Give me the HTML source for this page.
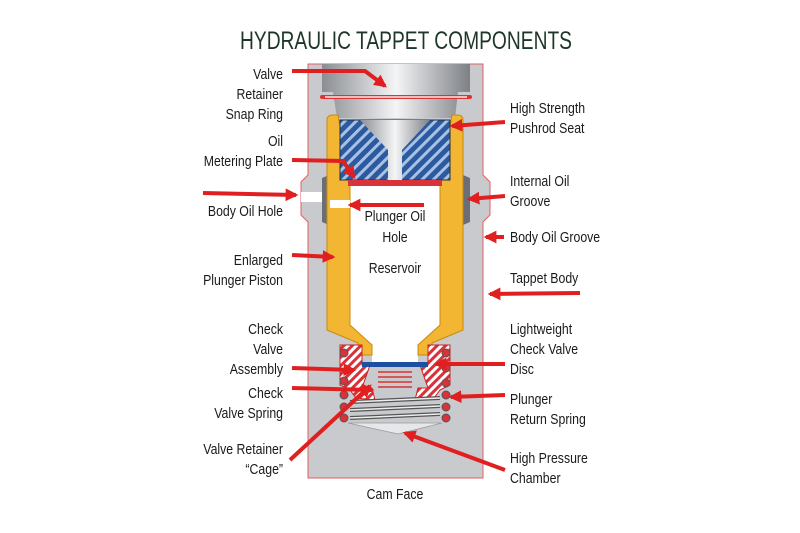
<!DOCTYPE html>
<html><head><meta charset="utf-8"><style>
html,body{margin:0;padding:0;background:#fff;width:800px;height:533px;overflow:hidden}
svg text{font-family:"Liberation Sans",sans-serif;font-size:15px;fill:#1a1a1a}
</style></head><body>
<svg width="800" height="533" viewBox="0 0 800 533" xmlns="http://www.w3.org/2000/svg">
<defs>
<marker id="ah" markerWidth="3.2" markerHeight="3.2" refX="2.6" refY="1.6" orient="auto" markerUnits="strokeWidth"><path d="M0,0 L3.2,1.6 L0,3.2 Z" fill="#e02020"/></marker>
<linearGradient id="cup" x1="0" x2="1"><stop offset="0" stop-color="#8a8d92"/><stop offset="0.5" stop-color="#f4f5f6"/><stop offset="1" stop-color="#7d8086"/></linearGradient>
<pattern id="hatch" width="8" height="8" patternUnits="userSpaceOnUse" patternTransform="rotate(45)"><rect width="8" height="8" fill="#2b5aa0"/><rect width="3" height="8" fill="#a9c1e2"/></pattern>
<pattern id="rh" width="6" height="6" patternUnits="userSpaceOnUse" patternTransform="rotate(45)"><rect width="6" height="6" fill="#fff"/><rect width="3" height="6" fill="#d8323a"/></pattern>
</defs>
<text x="240" y="49" textLength="332" lengthAdjust="spacingAndGlyphs" style="font-size:25px;fill:#1e3626">HYDRAULIC TAPPET COMPONENTS</text>
<path d="M308,64 L483,64 L483,175 L490,182 L490,215 L483,222 L483,478 L308,478 L308,222 L301,215 L301,182 L308,175 Z" fill="#c9cace" stroke="#e06060" stroke-width="1"/>
<rect x="301" y="192" width="22" height="10" fill="#fff"/>
<path d="M322,178 L336,172 L336,228 L322,222 Z" fill="#6b6e74"/>
<path d="M470,178 L456,172 L456,228 L470,222 Z" fill="#6b6e74"/>
<path d="M322,64 L470,64 L470,92 L458,92 L455,118 L337,118 L333,92 L322,92 Z" fill="url(#cup)"/>
<line x1="322" y1="97" x2="470" y2="97" stroke="#d33" stroke-width="4" stroke-linecap="round"/>
<line x1="325" y1="97" x2="467" y2="97" stroke="#eee" stroke-width="1.5"/>
<!-- white interior -->
<path d="M350,185 L440,185 L440,325 L418,345 L418,362 L372,362 L372,345 L350,325 Z" fill="#fff"/>
<path d="M327,120 Q327,115 333,115 L338,115 L350,185 L350,325 L372,345 L372,355 L358,355 L358,343 L327,330 Z" fill="#f2b632" stroke="#c88a10" stroke-width="1"/>
<path d="M463,120 Q463,115 457,115 L452,115 L440,185 L440,325 L418,345 L418,355 L432,355 L432,343 L463,330 Z" fill="#f2b632" stroke="#c88a10" stroke-width="1"/>
<rect x="330" y="200" width="20" height="8" fill="#fff"/>
<path d="M340,120 L450,120 L450,180 L340,180 Z" fill="url(#hatch)" stroke="#234" stroke-width="1"/>
<path d="M360,120 L430,120 L402,150 L402,180 L388,180 L388,150 Z" fill="url(#cup)"/>
<rect x="348" y="180" width="94" height="6" fill="#d8323a"/>
<path d="M340,345 L362,345 L362,365 L370,365 L362,388 L372,388 L375,400 L356,398 L350,390 L340,385 Z" fill="url(#rh)" stroke="#c22" stroke-width="1"/>
<path d="M450,345 L428,345 L428,365 L420,365 L428,388 L418,388 L415,400 L434,398 L440,390 L450,385 Z" fill="url(#rh)" stroke="#c22" stroke-width="1"/>
<rect x="362" y="362" width="66" height="5" fill="#1f4fa0"/>
<g stroke="#d33" stroke-width="1.5"><line x1="378" y1="372" x2="412" y2="372"/><line x1="378" y1="377" x2="412" y2="377"/><line x1="378" y1="382" x2="412" y2="382"/><line x1="378" y1="387" x2="412" y2="387"/></g>
<g stroke="#555" stroke-width="4" fill="none"><line x1="350" y1="402" x2="440" y2="398"/><line x1="350" y1="410" x2="440" y2="406"/><line x1="350" y1="418" x2="440" y2="414"/></g>
<g stroke="#eee" stroke-width="1.5" fill="none"><line x1="350" y1="402" x2="440" y2="398"/><line x1="350" y1="410" x2="440" y2="406"/><line x1="350" y1="418" x2="440" y2="414"/></g>
<g fill="#d8323a" stroke="#555" stroke-width="1"><circle cx="344" cy="353" r="4"/><circle cx="344" cy="381" r="4"/><circle cx="344" cy="395" r="4"/><circle cx="344" cy="407" r="4"/><circle cx="344" cy="418" r="4"/><circle cx="446" cy="353" r="4"/><circle cx="446" cy="368" r="4"/><circle cx="446" cy="383" r="4"/><circle cx="446" cy="395" r="4"/><circle cx="446" cy="407" r="4"/><circle cx="446" cy="418" r="4"/></g>
<path d="M348,423 L442,423 L398,434 Z" fill="#e6e7ea" stroke="#999" stroke-width="0.8"/>
<g stroke="#e02020" stroke-width="4" fill="none" marker-end="url(#ah)">
<path d="M292,71 L365,71 L385,86"/>
<path d="M505,122 L452,126"/>
<path d="M292,160 L343,161 L354,177"/>
<path d="M203,193 L296,195"/>
<path d="M424,205 L350,205"/>
<path d="M505,196 L469,199"/>
<path d="M504,237 L486,237"/>
<path d="M292,255 L333,257"/>
<path d="M580,293 L490,294"/>
<path d="M292,368 L354,370"/>
<path d="M505,364 L436,364"/>
<path d="M292,388 L372,390"/>
<path d="M505,395 L451,397"/>
<path d="M290,460 L370,386"/>
<path d="M505,470 L405,433"/>
</g>
<g text-anchor="end" transform="translate(283,0) scale(0.82,1) translate(-283,0)">
<text x="283" y="79">Valve</text><text x="283" y="99">Retainer</text><text x="283" y="119">Snap Ring</text>
<text x="283" y="146">Oil</text><text x="283" y="166">Metering Plate</text>
<text x="283" y="216">Body Oil Hole</text>
<text x="283" y="265">Enlarged</text><text x="283" y="285">Plunger Piston</text>
<text x="283" y="334">Check</text><text x="283" y="354">Valve</text><text x="283" y="374">Assembly</text>
<text x="283" y="398">Check</text><text x="283" y="418">Valve Spring</text>
<text x="283" y="454">Valve Retainer</text><text x="283" y="474">“Cage”</text>
</g>
<g transform="translate(510,0) scale(0.82,1) translate(-510,0)">
<text x="510" y="113">High Strength</text><text x="510" y="133">Pushrod Seat</text>
<text x="510" y="186">Internal Oil</text><text x="510" y="206">Groove</text>
<text x="510" y="242">Body Oil Groove</text>
<text x="510" y="283">Tappet Body</text>
<text x="510" y="334">Lightweight</text><text x="510" y="354">Check Valve</text><text x="510" y="374">Disc</text>
<text x="510" y="404">Plunger</text><text x="510" y="424">Return Spring</text>
<text x="510" y="463">High Pressure</text><text x="510" y="483">Chamber</text>
</g>
<g text-anchor="middle" transform="translate(395,0) scale(0.82,1) translate(-395,0)">
<text x="395" y="221">Plunger Oil</text><text x="395" y="242">Hole</text>
<text x="395" y="273">Reservoir</text>
<text x="395" y="499">Cam Face</text>
</g>
</svg>
</body></html>
